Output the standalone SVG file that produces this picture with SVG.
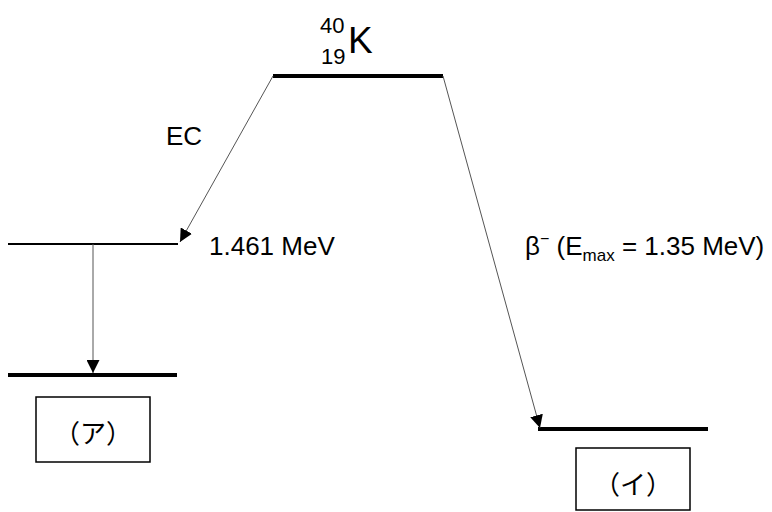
<svg xmlns="http://www.w3.org/2000/svg" width="772" height="512" viewBox="0 0 772 512">
<style>
.lvl{stroke:#000;stroke-width:4}
.lvl-thin{stroke:#000;stroke-width:2}
.conn{stroke:#555;stroke-width:1;fill:none;marker-end:url(#ah)}
.lbl{font-family:"Liberation Sans",Arial,sans-serif;font-size:26px;fill:#000}
.jp{font-family:"Noto Sans CJK JP",sans-serif;font-size:26px;fill:#000}
.box{fill:#fff;stroke:#000;stroke-width:1.5}
</style>
<defs>
<marker id="ah" viewBox="0 0 12 12" refX="12" refY="6" markerWidth="13" markerHeight="13" markerUnits="userSpaceOnUse" orient="auto">
<path d="M0,0 L12,6 L0,12 z" fill="#000"/>
</marker>
</defs>
<rect width="772" height="512" fill="#fff"/>
<g id="k40">
<line class="lvl" x1="273" y1="76" x2="443" y2="76"/>
<text class="lbl" x="320" y="33" style="font-size:22px">40</text>
<text class="lbl" x="321" y="64" style="font-size:22px">19</text>
<text class="lbl" x="348" y="53" style="font-size:37px">K</text>
</g>
<g id="excited">
<line class="lvl-thin" x1="8" y1="244" x2="178" y2="244"/>
<text class="lbl" x="209" y="255">1.461 MeV</text>
</g>
<g id="ground-a">
<line class="lvl" x1="8" y1="375" x2="177" y2="375"/>
<rect class="box" x="36" y="397" width="114" height="65"/>
<text class="jp" x="93" y="443" text-anchor="middle">（ア）</text>
</g>
<g id="ground-i">
<line class="lvl" x1="538" y1="429" x2="708" y2="429"/>
<rect class="box" x="576" y="448" width="114" height="62"/>
<text class="jp" x="633" y="494" text-anchor="middle">（イ）</text>
</g>
<g id="connectors">
<line class="conn" x1="273" y1="76" x2="180" y2="242"/>
<line class="conn" x1="93" y1="244" x2="93" y2="373"/>
<line class="conn" x1="443" y1="76" x2="540" y2="428"/>
</g>
<g id="labels">
<text class="lbl" x="166" y="145">EC</text>
<text class="lbl" x="525" y="255">β<tspan dy="-11" style="font-size:16px">−</tspan><tspan dy="11"> (E</tspan><tspan dy="6" style="font-size:17px">max</tspan><tspan dy="-6"> = 1.35 MeV)</tspan></text>
</g>
</svg>
